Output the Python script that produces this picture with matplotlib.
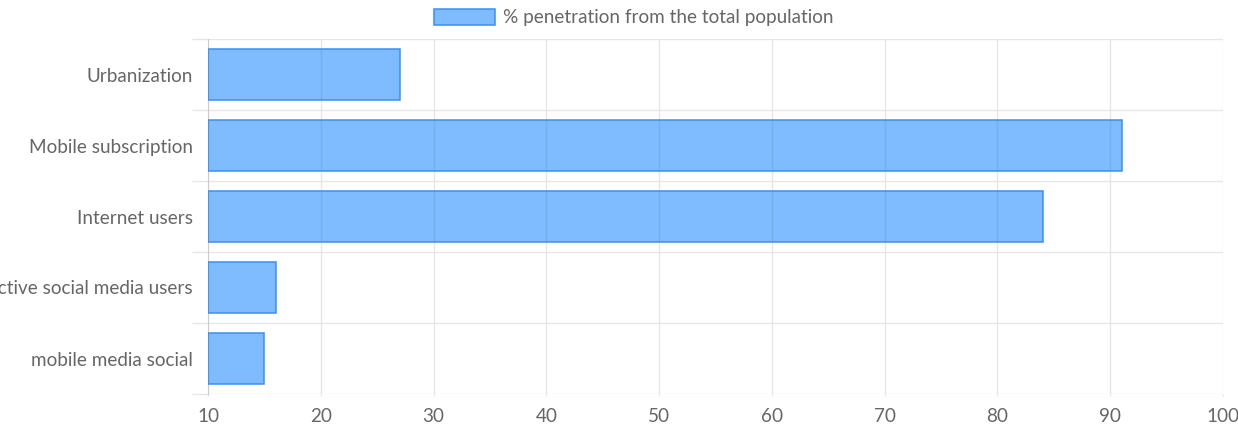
import numpy as np
import matplotlib
matplotlib.use("Agg")
import matplotlib.pyplot as plt

plt.rcParams["font.family"] = ["Lato", "DejaVu Sans"]

categories = ["Urbanization", "Mobile subscription", "Internet users",
              "Active social media users", "mobile media social"]
values = [27, 91, 84, 16, 15]
series_label = "% penetration from the total population"
x_ticks = [10, 20, 30, 40, 50, 60, 70, 80, 90, 100]

TEXT = "#666666"
GRID = "#e6e6e6"
FILL = (0.0, 0.48, 1.0, 0.5)
EDGE = "#3a8ff5"
FS = 13.6

fig = plt.figure(figsize=(12.38, 4.26), dpi=100)
fig.patch.set_facecolor("white")
ax = fig.add_axes([208 / 1238, 1 - 394 / 426, (1223 - 208) / 1238, (394 - 39) / 426])

y = np.arange(len(categories))
ax.barh(y, np.array(values) - 10, left=10, height=0.72, color=FILL,
        edgecolor=EDGE, linewidth=1.1, label=series_label, zorder=3)

ax.set_xlim(10, 100)
ax.set_ylim(len(categories) - 0.5, -0.5)
ax.set_xticks(x_ticks)
ax.set_yticks(y)
ax.set_yticklabels(categories)
ax.set_yticks(np.arange(len(categories) + 1) - 0.5, minor=True)

ax.tick_params(axis="y", which="major", length=0, pad=11, labelsize=FS, labelcolor=TEXT)
ax.tick_params(axis="y", which="minor", length=11.5, width=1, color=GRID)
ax.tick_params(axis="x", which="major", length=1.5, width=1, color=GRID, pad=8.5,
               labelsize=FS, labelcolor=TEXT)

ax.grid(True, axis="x", which="major", color=GRID, linewidth=1, zorder=0)
ax.grid(True, axis="y", which="minor", color=GRID, linewidth=1, zorder=0)
for name, spine in ax.spines.items():
    spine.set_visible(False)
ax.spines["left"].set_visible(True)
ax.spines["left"].set_color("#cccccc")
ax.set_axisbelow(True)

fig.legend(loc="upper center", bbox_to_anchor=(634 / 1238, 1.0), frameon=False,
           fontsize=FS, labelcolor=TEXT, handlelength=3.2, handleheight=1.0,
           handletextpad=0.45, borderaxespad=0.05)

fig.savefig("out.png", dpi=100)
